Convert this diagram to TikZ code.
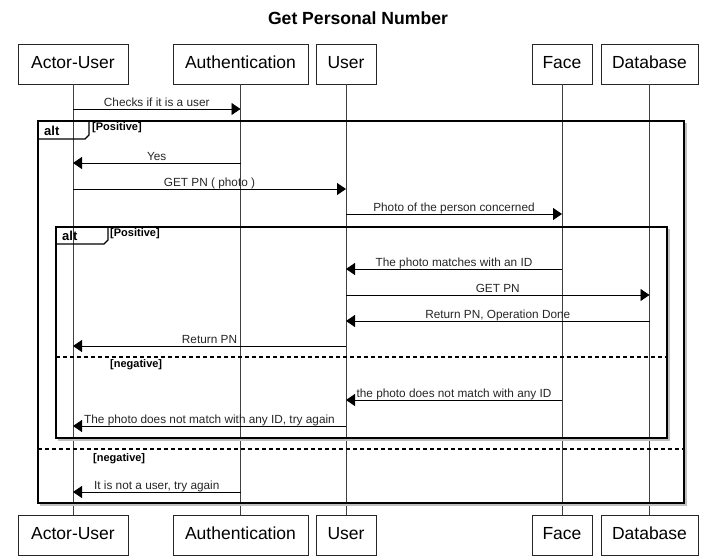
\documentclass[tikz,border=0pt]{standalone}
\usepackage{fontspec}
\setmainfont{Liberation Sans}
\usetikzlibrary{arrows.meta}
\tikzset{
  part/.style={draw=black!85, line width=0.8pt, fill=white, minimum height=40pt, inner sep=0pt, text height=12.6pt, text depth=3.6pt, font=\fontsize{17.5}{20}\selectfont},
  lifeline/.style={draw=black!75, line width=0.8pt},
  msgline/.style={draw=black, line width=0.9pt, -{Triangle[length=9pt,width=12pt]}},
  msglbl/.style={anchor=base, yshift=3pt, inner sep=0pt, font=\fontsize{11.8}{13}\selectfont, text=black!85},
  frm/.style={draw=black, line width=1.4pt},
  frmshadow/.style={draw=black!25, line width=1.4pt},
  guard/.style={font=\bfseries\fontsize{11}{12}\selectfont, inner sep=0pt, anchor=west},
  altlbl/.style={font=\bfseries\fontsize{13}{14}\selectfont, inner sep=0pt, anchor=west},
  sepline/.style={draw=black, line width=1.3pt, dash pattern=on 4pt off 3pt},
}
\newcommand\seqmsg[5]{%
  \coordinate (#1s) at (#2.south |- 0,#4);
  \coordinate (#1e) at (#3.south |- 0,#4);
  \draw[msgline] (#1s) -- node[msglbl]{#5} (#1e);
}
\begin{document}
\begin{tikzpicture}[x=1pt,y=-1pt]
\useasboundingbox (0,0) rectangle (707,557);
\node[font=\bfseries\fontsize{17.6}{20}\selectfont] (title) at (358,18) {Get Personal Number};

% participants
\node[part, minimum width=110pt] (aT) at (73,64) {Actor-User};
\node[part, minimum width=135pt] (nT) at (240.5,64) {Authentication};
\node[part, minimum width=60pt]  (uT) at (346,64) {User};
\node[part, minimum width=60pt]  (fT) at (562,64) {Face};
\node[part, minimum width=97pt]  (dT) at (649.5,64) {Database};

\node[part, minimum width=110pt] (aB) at (73,535) {Actor-User};
\node[part, minimum width=135pt] (nB) at (240.5,535) {Authentication};
\node[part, minimum width=60pt]  (uB) at (346,535) {User};
\node[part, minimum width=60pt]  (fB) at (562,535) {Face};
\node[part, minimum width=97pt]  (dB) at (649.5,535) {Database};

% lifelines
\draw[lifeline] (aT.south) -- (aB.north);
\draw[lifeline] (nT.south) -- (nB.north);
\draw[lifeline] (uT.south) -- (uB.north);
\draw[lifeline] (fT.south) -- (fB.north);
\draw[lifeline] (dT.south) -- (dB.north);

% outer alt frame
\draw[frmshadow] (40,505) -- (686,505) -- (686,123);
\draw[frm] (38,121) rectangle (684,503);
\draw[frm] (38,121) -- (89,121) -- (89,135) -- (85,139) -- (38,139);
\node[altlbl] (alt1) at (44,130.5) {alt};
\node[guard] (g1) at (92,128) {[Positive]};

% inner alt frame
\draw[frmshadow] (58,440) -- (669,440) -- (669,229);
\draw[frm] (56,227) rectangle (667,438);
\draw[frm] (56,227) -- (108,227) -- (108,240) -- (104,244) -- (56,244);
\node[altlbl] (alt2) at (62,236) {alt};
\node[guard] (g2) at (110,234) {[Positive]};

% separators
\draw[sepline] (56,357) -- (667,357);
\node[guard] (g3) at (110,364.5) {[negative]};
\draw[sepline] (38,449) -- (684,449);
\node[guard] (g4) at (93,458.5) {[negative]};

% messages
\seqmsg{m1}{aT}{nT}{109}{Checks if it is a user}
\seqmsg{m2}{nT}{aT}{163}{Yes}
\seqmsg{m3}{aT}{uT}{189}{GET PN ( photo )}
\seqmsg{m4}{uT}{fT}{214}{Photo of the person concerned}
\seqmsg{m5}{fT}{uT}{269}{The photo matches with an ID}
\seqmsg{m6}{uT}{dT}{295}{GET PN}
\seqmsg{m7}{dT}{uT}{321}{Return PN, Operation Done}
\seqmsg{m8}{uT}{aT}{346}{Return PN}
\seqmsg{m9}{fT}{uT}{400}{the photo does not match with any ID}
\seqmsg{m10}{uT}{aT}{426}{The photo does not match with any ID, try again}
\seqmsg{m11}{nT}{aT}{492}{It is not a user, try again}
\end{tikzpicture}
\end{document}
